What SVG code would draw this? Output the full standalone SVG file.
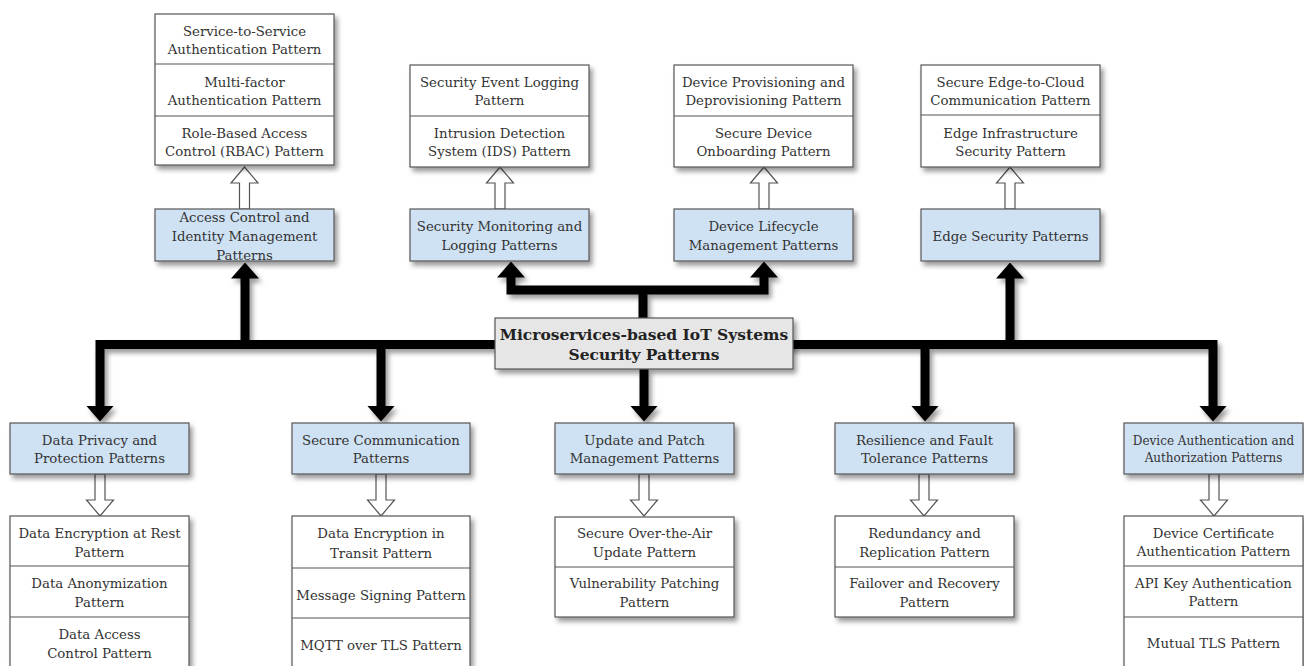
<svg xmlns="http://www.w3.org/2000/svg" width="1304" height="666" viewBox="0 0 1304 666">
<defs>
<style>
.t{font-family:"DejaVu Serif","Liberation Serif",serif;font-size:13.3px;fill:#333;text-anchor:middle}
.ts{font-size:12px}
.tb{font-family:"DejaVu Serif","Liberation Serif",serif;font-size:15.5px;font-weight:bold;fill:#222;text-anchor:middle}
.blue{fill:#cfe2f3;stroke:#555;stroke-width:1.2}
.white{fill:#fff;stroke:#555;stroke-width:1.2}
.center{fill:#e6e6e6;stroke:#555;stroke-width:1.2}
.div{stroke:#555;stroke-width:1.2;fill:none}
.conn{fill:none;stroke:#000;stroke-width:9;stroke-linejoin:miter}
.hollow{fill:#fff;stroke:#555;stroke-width:1.2}
</style>
<filter id="sh" x="-10%" y="-10%" width="130%" height="140%">
<feDropShadow dx="3" dy="4" stdDeviation="2.5" flood-color="#000" flood-opacity="0.4"/>
</filter>
<filter id="shc" filterUnits="userSpaceOnUse" x="0" y="0" width="1304" height="666">
<feDropShadow dx="3" dy="4" stdDeviation="2.5" flood-color="#000" flood-opacity="0.4"/>
</filter>
<marker id="ah" markerUnits="userSpaceOnUse" viewBox="0 0 16 28" refX="0.5" refY="14" markerWidth="16" markerHeight="28" orient="auto-start-reverse">
<path d="M0,0 L16,14 L0,28 Z" fill="#000"/>
</marker>
<path id="hdown" d="M-5,0 V26 H-13.5 L0,42 L13.5,26 H5 V0 Z"/>
</defs>

<g id="connectors">
<g filter="url(#shc)">
<path class="conn" d="M100,406 V344.5 H1213 V406" marker-start="url(#ah)" marker-end="url(#ah)"/>
<path class="conn" d="M245,344.5 V278" marker-end="url(#ah)"/>
<path class="conn" d="M1010,344.5 V278" marker-end="url(#ah)"/>
<path class="conn" d="M381,344.5 V406" marker-end="url(#ah)"/>
<path class="conn" d="M925,344.5 V406" marker-end="url(#ah)"/>
<path class="conn" d="M644,369 V406" marker-end="url(#ah)"/>
<path class="conn" d="M643,318 V290"/>
<path class="conn" d="M511,277 V290 H764 V277" marker-start="url(#ah)" marker-end="url(#ah)"/>
</g>
<use href="#hdown" class="hollow" transform="translate(244.5,209) scale(1,-1)"/>
<use href="#hdown" class="hollow" transform="translate(500,209) scale(1,-1)"/>
<use href="#hdown" class="hollow" transform="translate(764,209) scale(1,-1)"/>
<use href="#hdown" class="hollow" transform="translate(1010,209) scale(1,-1)"/>
<use href="#hdown" class="hollow" transform="translate(100,474)"/>
<use href="#hdown" class="hollow" transform="translate(381,474)"/>
<use href="#hdown" class="hollow" transform="translate(644,474)"/>
<use href="#hdown" class="hollow" transform="translate(924,474)"/>
<use href="#hdown" class="hollow" transform="translate(1214,474)"/>
</g>

<g id="center">
<rect class="center" filter="url(#sh)" x="495" y="318" width="298" height="51"/>
<text class="tb" x="644" y="340">Microservices-based IoT Systems</text>
<text class="tb" x="644" y="360">Security Patterns</text>
</g>

<g id="access-control">
<rect class="blue" filter="url(#sh)" x="155" y="209" width="179" height="52"/>
<text class="t" x="244.5" y="222">Access Control and</text>
<text class="t" x="244.5" y="241">Identity Management</text>
<text class="t" x="244.5" y="260">Patterns</text>
</g>
<g id="access-control-list">
<rect class="white" filter="url(#sh)" x="155" y="14" width="179" height="151"/>
<line class="div" x1="155" y1="64" x2="334" y2="64"/>
<line class="div" x1="155" y1="116" x2="334" y2="116"/>
<text class="t" x="244.5" y="36">Service-to-Service</text>
<text class="t" x="244.5" y="54">Authentication Pattern</text>
<text class="t" x="244.5" y="87">Multi-factor</text>
<text class="t" x="244.5" y="105">Authentication Pattern</text>
<text class="t" x="244.5" y="138">Role-Based Access</text>
<text class="t" x="244.5" y="156">Control (RBAC) Pattern</text>
</g>

<g id="monitoring">
<rect class="blue" filter="url(#sh)" x="410" y="209" width="179" height="52"/>
<text class="t" x="499.5" y="231">Security Monitoring and</text>
<text class="t" x="499.5" y="250">Logging Patterns</text>
</g>
<g id="monitoring-list">
<rect class="white" filter="url(#sh)" x="410" y="65" width="179" height="102"/>
<line class="div" x1="410" y1="116" x2="589" y2="116"/>
<text class="t" x="499.5" y="87">Security Event Logging</text>
<text class="t" x="499.5" y="105">Pattern</text>
<text class="t" x="499.5" y="138">Intrusion Detection</text>
<text class="t" x="499.5" y="156">System (IDS) Pattern</text>
</g>

<g id="lifecycle">
<rect class="blue" filter="url(#sh)" x="674" y="209" width="179" height="52"/>
<text class="t" x="763.5" y="231">Device Lifecycle</text>
<text class="t" x="763.5" y="250">Management Patterns</text>
</g>
<g id="lifecycle-list">
<rect class="white" filter="url(#sh)" x="674" y="65" width="179" height="102"/>
<line class="div" x1="674" y1="116" x2="853" y2="116"/>
<text class="t" x="763.5" y="87">Device Provisioning and</text>
<text class="t" x="763.5" y="105">Deprovisioning Pattern</text>
<text class="t" x="763.5" y="138">Secure Device</text>
<text class="t" x="763.5" y="156">Onboarding Pattern</text>
</g>

<g id="edge">
<rect class="blue" filter="url(#sh)" x="921" y="209" width="179" height="52"/>
<text class="t" x="1010.5" y="241">Edge Security Patterns</text>
</g>
<g id="edge-list">
<rect class="white" filter="url(#sh)" x="921" y="65" width="179" height="102"/>
<line class="div" x1="921" y1="115" x2="1100" y2="115"/>
<text class="t" x="1010.5" y="87">Secure Edge-to-Cloud</text>
<text class="t" x="1010.5" y="105">Communication Pattern</text>
<text class="t" x="1010.5" y="138">Edge Infrastructure</text>
<text class="t" x="1010.5" y="156">Security Pattern</text>
</g>

<g id="privacy">
<rect class="blue" filter="url(#sh)" x="10" y="423" width="179" height="51"/>
<text class="t" x="99.5" y="445">Data Privacy and</text>
<text class="t" x="99.5" y="463">Protection Patterns</text>
</g>
<g id="privacy-list">
<rect class="white" filter="url(#sh)" x="10" y="516" width="179" height="160"/>
<line class="div" x1="10" y1="566" x2="189" y2="566"/>
<line class="div" x1="10" y1="617" x2="189" y2="617"/>
<text class="t" x="99.5" y="538">Data Encryption at Rest</text>
<text class="t" x="99.5" y="557">Pattern</text>
<text class="t" x="99.5" y="588">Data Anonymization</text>
<text class="t" x="99.5" y="607">Pattern</text>
<text class="t" x="99.5" y="639">Data Access</text>
<text class="t" x="99.5" y="658">Control Pattern</text>
</g>

<g id="communication">
<rect class="blue" filter="url(#sh)" x="292" y="423" width="178" height="51"/>
<text class="t" x="381" y="445">Secure Communication</text>
<text class="t" x="381" y="463">Patterns</text>
</g>
<g id="communication-list">
<rect class="white" filter="url(#sh)" x="292" y="516" width="178" height="160"/>
<line class="div" x1="292" y1="568" x2="470" y2="568"/>
<line class="div" x1="292" y1="618" x2="470" y2="618"/>
<text class="t" x="381" y="538">Data Encryption in</text>
<text class="t" x="381" y="558">Transit Pattern</text>
<text class="t" x="381" y="600">Message Signing Pattern</text>
<text class="t" x="381" y="650">MQTT over TLS Pattern</text>
</g>

<g id="update">
<rect class="blue" filter="url(#sh)" x="555" y="423" width="179" height="51"/>
<text class="t" x="644.5" y="445">Update and Patch</text>
<text class="t" x="644.5" y="463">Management Patterns</text>
</g>
<g id="update-list">
<rect class="white" filter="url(#sh)" x="555" y="517" width="179" height="100"/>
<line class="div" x1="555" y1="567" x2="734" y2="567"/>
<text class="t" x="644.5" y="538">Secure Over-the-Air</text>
<text class="t" x="644.5" y="557">Update Pattern</text>
<text class="t" x="644.5" y="588">Vulnerability Patching</text>
<text class="t" x="644.5" y="607">Pattern</text>
</g>

<g id="resilience">
<rect class="blue" filter="url(#sh)" x="835" y="423" width="179" height="51"/>
<text class="t" x="924.5" y="445">Resilience and Fault</text>
<text class="t" x="924.5" y="463">Tolerance Patterns</text>
</g>
<g id="resilience-list">
<rect class="white" filter="url(#sh)" x="835" y="516" width="179" height="101"/>
<line class="div" x1="835" y1="567" x2="1014" y2="567"/>
<text class="t" x="924.5" y="538">Redundancy and</text>
<text class="t" x="924.5" y="557">Replication Pattern</text>
<text class="t" x="924.5" y="588">Failover and Recovery</text>
<text class="t" x="924.5" y="607">Pattern</text>
</g>

<g id="device-auth">
<rect class="blue" filter="url(#sh)" x="1124" y="423" width="179" height="51"/>
<text class="t ts" x="1213.5" y="445">Device Authentication and</text>
<text class="t ts" x="1213.5" y="462">Authorization Patterns</text>
</g>
<g id="device-auth-list">
<rect class="white" filter="url(#sh)" x="1124" y="516" width="179" height="160"/>
<line class="div" x1="1124" y1="566" x2="1303" y2="566"/>
<line class="div" x1="1124" y1="617" x2="1303" y2="617"/>
<text class="t" x="1213.5" y="538">Device Certificate</text>
<text class="t" x="1213.5" y="556">Authentication Pattern</text>
<text class="t" x="1213.5" y="588">API Key Authentication</text>
<text class="t" x="1213.5" y="606">Pattern</text>
<text class="t" x="1213.5" y="648">Mutual TLS Pattern</text>
</g>
</svg>
